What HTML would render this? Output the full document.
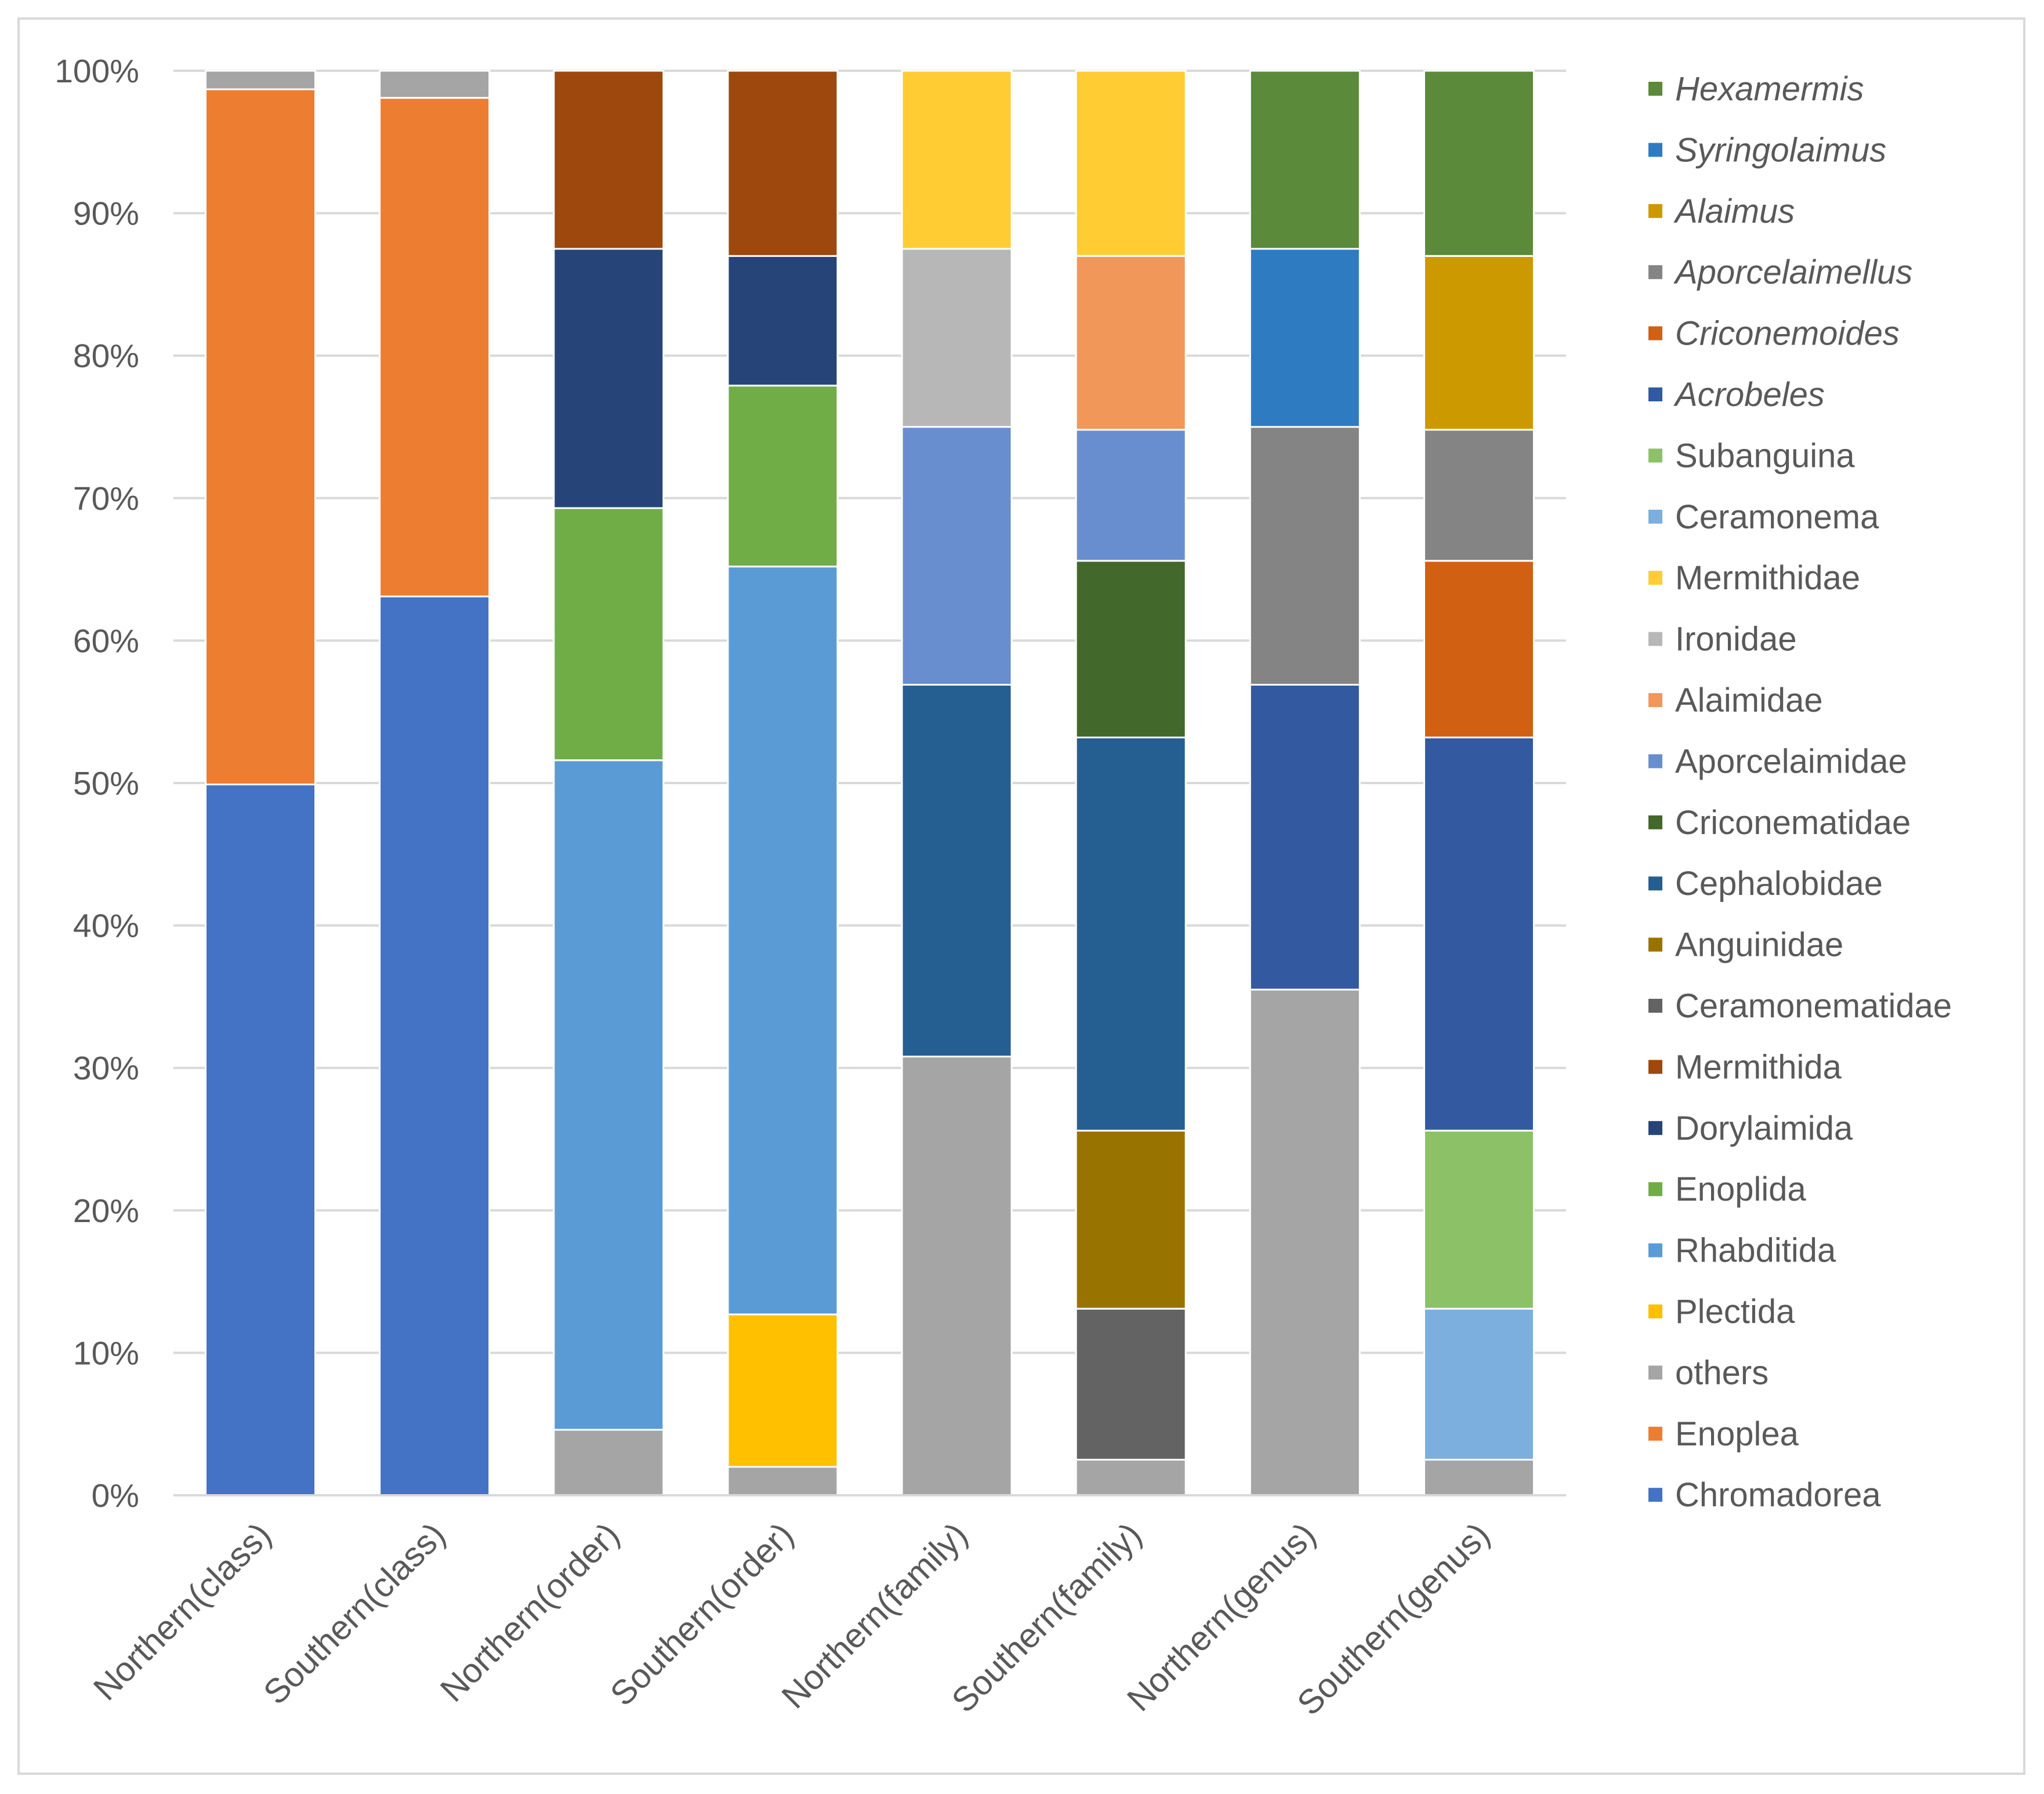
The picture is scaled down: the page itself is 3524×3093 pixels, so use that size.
<!DOCTYPE html>
<html><head><meta charset="utf-8"><style>
html,body{margin:0;padding:0;background:#fff}
svg text{font-family:"Liberation Sans",sans-serif;fill:#595959}
</style></head><body>
<svg id="chart" width="3524" height="3088" viewBox="0 0 3524 3088" xmlns="http://www.w3.org/2000/svg">
<rect x="32" y="32" width="3458" height="3026" fill="#fff" stroke="#d9d9d9" stroke-width="4"/>
<g id="grid"></g><g id="bars"></g><g id="axes"></g><g id="legend"></g>
</svg>
<script>
const categories=["Northern(class)","Southern(class)","Northern(order)","Southern(order)","Northern(family)","Southern(family)","Northern(genus)","Southern(genus)"];
const seriesNames=["Chromadorea","Enoplea","others","Plectida","Rhabditida","Enoplida","Dorylaimida","Mermithida","Ceramonematidae","Anguinidae","Cephalobidae","Criconematidae","Aporcelaimidae","Alaimidae","Ironidae","Mermithidae","Ceramonema","Subanguina","Acrobeles","Criconemoides","Aporcelaimellus","Alaimus","Syringolaimus","Hexamermis"];
const seriesColors=["#4472C4","#ED7D31","#A5A5A5","#FFC000","#5B9BD5","#70AD47","#264478","#9E480E","#636363","#997300","#255E91","#43682B","#698ED0","#F1975A","#B7B7B7","#FFCD33","#7CAFDD","#8CC168","#335AA1","#D26012","#848484","#CC9A00","#2E7BC2","#5A8A3A"];
const italicSeries=["Acrobeles","Criconemoides","Aporcelaimellus","Alaimus","Syringolaimus","Hexamermis"];
const northernClass=[["Chromadorea",49.9],["Enoplea",48.8],["others",1.3]];
const southernClass=[["Chromadorea",63.1],["Enoplea",35.0],["others",1.9]];
const northernOrder=[["others",4.6],["Rhabditida",47.0],["Enoplida",17.7],["Dorylaimida",18.2],["Mermithida",12.5]];
const southernOrder=[["others",2.0],["Plectida",10.7],["Rhabditida",52.5],["Enoplida",12.7],["Dorylaimida",9.1],["Mermithida",13.0]];
const northernFamily=[["others",30.8],["Cephalobidae",26.1],["Aporcelaimidae",18.1],["Ironidae",12.5],["Mermithidae",12.5]];
const southernFamily=[["others",2.5],["Ceramonematidae",10.6],["Anguinidae",12.5],["Cephalobidae",27.6],["Criconematidae",12.4],["Aporcelaimidae",9.2],["Alaimidae",12.2],["Mermithidae",13.0]];
const northernGenus=[["others",35.5],["Acrobeles",21.4],["Aporcelaimellus",18.1],["Syringolaimus",12.5],["Hexamermis",12.5]];
const southernGenus=[["others",2.5],["Ceramonema",10.6],["Subanguina",12.5],["Acrobeles",27.6],["Criconemoides",12.4],["Aporcelaimellus",9.2],["Alaimus",12.2],["Hexamermis",13.0]];
const tickValues=[0,10,20,30,40,50,60,70,80,90,100];
const tickLabels=["0%","10%","20%","30%","40%","50%","60%","70%","80%","90%","100%"];
const allValues=[northernClass,southernClass,northernOrder,southernOrder,northernFamily,southernFamily,northernGenus,southernGenus];

const NS="http://www.w3.org/2000/svg";
const X0=299,X1=2700,Y0=2578,Y1=122,BW=189;
const y=v=>Y0-(v/100)*(Y0-Y1);
const band=(X1-X0)/categories.length;
const xc=i=>X0+band*(i+0.5);
function mk(tag,attrs,parent){const e=document.createElementNS(NS,tag);for(const k in attrs)e.setAttribute(k,attrs[k]);parent.appendChild(e);return e;}
const grid=document.getElementById('grid'),bars=document.getElementById('bars'),axes=document.getElementById('axes'),legend=document.getElementById('legend');
tickValues.forEach((t,i)=>{
  if(t>0){const l=mk('line',{x1:X0,x2:X1,y1:y(t),y2:y(t),stroke:'#d9d9d9','stroke-width':4},grid);
  
  }
  const tx=mk('text',{x:240,y:y(t)+20,'text-anchor':'end','font-size':57},axes);
  tx.textContent=tickLabels[i];
  
  
});
const ax=mk('line',{x1:X0,x2:X1,y1:Y0,y2:Y0,stroke:'#d9d9d9','stroke-width':4},axes);


allValues.forEach((vals,i)=>{
  let cum=0;
  vals.forEach(([name,v])=>{
    const top=cum+v;
    const r=mk('rect',{x:xc(i)-BW/2,y:y(top),width:BW,height:y(cum)-y(top),fill:seriesColors[seriesNames.indexOf(name)],stroke:'#fff','stroke-width':3},bars);
    
    
    cum=top;
  });
  const lx=xc(i)+22,ly=Y0+72;
  const t=mk('text',{x:lx,y:ly,'text-anchor':'end','font-size':59,transform:`rotate(-45 ${lx} ${ly})`},axes);
  t.textContent=categories[i];
  
  
});
const legendOrder=seriesNames.slice().reverse();
legendOrder.forEach((name,k)=>{
  const cy=153+k*105.4;
  const g=mk('g',{},legend);
  
  
  mk('rect',{x:2842,y:cy-12,width:24,height:24,fill:seriesColors[seriesNames.indexOf(name)]},g);
  const t=mk('text',{x:2888,y:cy+20,'font-size':58,'font-style':italicSeries.includes(name)?'italic':'normal'},g);
  t.textContent=name;
});
</script>
</body></html>
